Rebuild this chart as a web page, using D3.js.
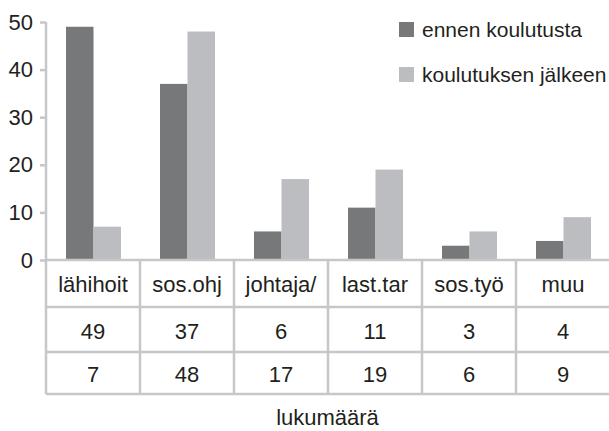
<!DOCTYPE html>
<html>
<head>
<meta charset="utf-8">
<script src="https://cdn.jsdelivr.net/npm/d3@7"></script>
<style>
  html, body { margin: 0; padding: 0; background: #ffffff; }
  svg { display: block; }
  text { font-family: "Liberation Sans", Arial, sans-serif; fill: #231f20; }
</style>
</head>
<body>
<svg id="chart" width="609" height="431"></svg>
<script>
const categories = ["lähihoit", "sos.ohj", "johtaja/", "last.tar", "sos.työ", "muu"];
const seriesNames = ["ennen koulutusta", "koulutuksen jälkeen"];
const before = [49, 37, 6, 11, 3, 4];
const after = [7, 48, 17, 19, 6, 9];
const yTicks = [0, 10, 20, 30, 40, 50];
const axisTitle = "lukumäärä";
const colors = ["#77787a", "#bcbdc1"];

(function () {
const svg = d3.select("#chart");
const lineColor = "#c6c7c9";
const fontSize = 21;

const plotLeft = 46, plotRight = 610, plotTop = 22, zeroY = 260;
const rowLines = [260, 307, 352, 394];

const x0 = d3.scaleBand().domain(categories).range([plotLeft, plotRight]).padding(0);
const bw = x0.bandwidth();
const x1 = d3.scaleBand().domain(seriesNames).range([bw / 2 - 27, bw / 2 + 28]).padding(0);
const y = d3.scaleLinear().domain([0, 50]).range([zeroY, plotTop]);

const seriesData = [before, after];

seriesData.forEach((vals, si) => {
  svg.append("g").selectAll("rect")
    .data(vals)
    .join("rect")
    .attr("x", (d, i) => x0(categories[i]) + x1(seriesNames[si]))
    .attr("y", d => y(d))
    .attr("width", x1.bandwidth())
    .attr("height", d => y(0) - y(d))
    .attr("fill", colors[si]);
});

const yAxis = d3.axisLeft(y).tickValues(yTicks).tickSize(6).tickPadding(7).tickFormat(d3.format("d"));
const gy = svg.append("g").attr("transform", `translate(${plotLeft},0)`).call(yAxis);
gy.select(".domain").remove();
gy.selectAll(".tick line").attr("stroke", lineColor).attr("stroke-width", 2.5);
gy.selectAll(".tick text").style("font-size", "22px").attr("fill", "#231f20")
  .style("font-family", '"Liberation Sans", Arial, sans-serif');
svg.append("line").attr("x1", plotLeft).attr("x2", plotLeft).attr("y1", y(50)).attr("y2", rowLines[3])
  .attr("stroke", lineColor).attr("stroke-width", 2.5);

rowLines.forEach(ly => {
  svg.append("line").attr("x1", plotLeft).attr("x2", 609).attr("y1", ly).attr("y2", ly)
    .attr("stroke", lineColor).attr("stroke-width", 2.5);
});
categories.forEach((c, i) => {
  if (i === 0) return;
  svg.append("line").attr("x1", x0(c)).attr("x2", x0(c)).attr("y1", rowLines[0]).attr("y2", rowLines[3] + 1)
    .attr("stroke", lineColor).attr("stroke-width", 2.5);
});

const rows = [categories, before, after];
const baselines = [292, 339, 382];
rows.forEach((row, ri) => {
  svg.append("g").selectAll("text")
    .data(row)
    .join("text")
    .attr("x", (d, i) => x0(categories[i]) + bw / 2)
    .attr("y", baselines[ri])
    .attr("text-anchor", "middle")
    .style("font-size", "22px")
    .text(d => d);
});

svg.append("text").attr("x", (plotLeft + 609) / 2).attr("y", 425).attr("text-anchor", "middle")
  .style("font-size", "22px").text(axisTitle);

const legendY = [22, 67];
seriesNames.forEach((s, i) => {
  svg.append("rect").attr("x", 399).attr("y", legendY[i]).attr("width", 15).attr("height", 15).attr("fill", colors[i]);
  svg.append("text").attr("x", 422).attr("y", legendY[i] + 15).style("font-size", fontSize + "px").text(s);
});
})();
</script>
</body>
</html>
